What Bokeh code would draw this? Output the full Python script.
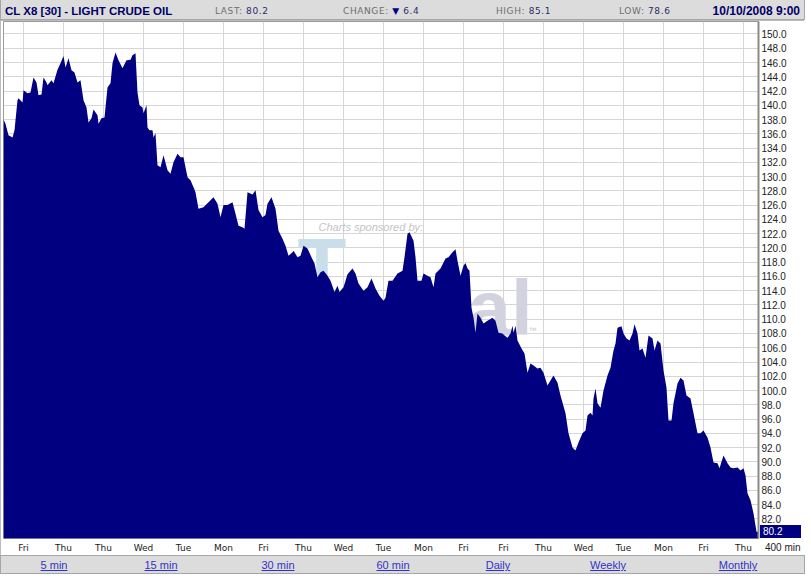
from bokeh.plotting import figure
from bokeh.models import FixedTicker, Label, Div, ColumnDataSource, Range1d, PrintfTickFormatter
from bokeh.layouts import column
from bokeh.embed import file_html
from bokeh.resources import INLINE

# ---------------- data ----------------
symbol_title = "CL X8 [30] - LIGHT CRUDE OIL"
last_price = 80.2
change = 6.4
high_price = 85.1
low_price = 78.6
stamp = "10/10/2008 9:00"

bars = [0, 2, 5, 9, 11, 14, 15, 19, 20, 24, 27, 30, 33, 35, 38, 40, 43, 44, 48, 50,
        54, 57, 60, 62, 65, 68, 71, 74, 77, 80, 83, 85, 88, 90, 94, 95, 98, 101, 104, 107,
        109, 112, 115, 119, 123, 127, 129, 132, 134, 136, 139, 140, 143, 144, 146, 149, 150, 152, 154, 157,
        160, 164, 167, 170, 174, 177, 180, 184, 187, 190, 192, 195, 200, 205, 210, 214, 217, 220, 224, 229,
        232, 235, 239, 241, 244, 249, 252, 255, 259, 262, 264, 268, 272, 275, 279, 282, 285, 289, 290, 294,
        297, 300, 304, 308, 311, 314, 317, 320, 324, 327, 331, 334, 336, 340, 344, 349, 352, 355, 360, 364,
        368, 372, 376, 380, 382, 385, 389, 394, 399, 401, 404, 406, 410, 412, 414, 418, 420, 424, 427, 430,
        432, 437, 442, 445, 449, 452, 454, 457, 460, 462, 464, 466, 468, 470, 472, 474, 477, 480, 484, 489,
        492, 495, 499, 501, 504, 507, 509, 510, 512, 514, 518, 521, 524, 527, 530, 534, 537, 540, 544, 547,
        550, 554, 557, 562, 565, 569, 572, 575, 579, 582, 584, 587, 589, 590, 592, 594, 597, 600, 604, 607,
        610, 612, 614, 618, 620, 623, 626, 629, 631, 634, 636, 639, 642, 645, 649, 651, 654, 657, 660, 663,
        665, 668, 670, 674, 677, 680, 683, 687, 690, 694, 697, 700, 704, 707, 710, 714, 716, 720, 724, 727,
        730, 734, 737, 740, 742, 744, 747, 750, 753, 755]

prices = [138.0, 137.4, 135.8, 135.5, 136.5, 140.7, 141.0, 140.4, 142.1, 141.7, 141.8, 143.9, 143.2, 141.4, 141.5, 143.9, 143.2, 142.8, 143.5, 143.1,
          145.0, 145.9, 146.9, 145.3, 146.6, 144.9, 144.6, 143.2, 143.5, 140.7, 139.7, 137.6, 138.2, 139.4, 138.6, 137.4, 138.2, 138.3, 142.5, 143.1,
          145.9, 147.4, 146.3, 145.2, 146.3, 146.4, 147.0, 147.3, 141.8, 140.0, 139.7, 138.9, 140.0, 136.9, 136.5, 136.5, 135.5, 136.1, 131.6, 131.3,
          133.0, 130.9, 130.4, 132.0, 133.2, 132.7, 132.7, 129.9, 129.5, 128.5, 127.8, 125.5, 125.7, 126.4, 127.1, 126.2, 124.3, 126.0, 126.0, 126.4,
          124.8, 123.1, 122.9, 122.7, 127.8, 127.5, 128.1, 125.3, 124.3, 124.6, 126.2, 127.1, 125.5, 122.4, 121.3, 120.3, 118.9, 119.4, 119.6, 118.7,
          118.9, 120.3, 119.9, 118.7, 117.8, 115.9, 116.6, 116.8, 116.1, 115.4, 113.8, 114.7, 113.8, 114.5, 116.3, 117.1, 116.4, 115.0, 114.0, 114.5,
          115.7, 114.3, 113.3, 112.6, 113.0, 115.4, 115.4, 116.4, 116.8, 118.7, 122.0, 122.2, 121.0, 118.7, 115.4, 115.4, 116.4, 116.1, 115.9, 114.5,
          116.4, 117.1, 118.5, 118.7, 119.4, 119.8, 118.2, 116.1, 117.5, 117.9, 117.1, 116.8, 111.6, 110.2, 108.1, 110.8, 110.2, 109.4, 109.8, 110.2,
          109.8, 108.1, 108.0, 107.7, 107.4, 108.0, 109.1, 108.1, 109.1, 107.0, 105.9, 105.2, 102.5, 103.8, 103.5, 103.1, 103.2, 102.5, 100.7, 101.4,
          102.1, 101.1, 99.3, 96.8, 94.0, 92.0, 91.6, 92.7, 94.0, 94.4, 96.5, 96.9, 96.5, 98.9, 100.3, 98.2, 97.6, 100.0, 102.1, 103.2,
          105.6, 106.6, 108.8, 109.0, 108.0, 107.3, 107.0, 108.0, 109.3, 108.0, 105.6, 105.9, 104.6, 107.7, 107.3, 105.6, 107.0, 106.6, 102.8, 100.4,
          95.8, 95.8, 98.2, 101.0, 101.8, 101.4, 99.3, 98.9, 96.8, 94.0, 94.0, 94.4, 93.4, 92.0, 89.9, 89.8, 89.1, 90.9, 89.8, 89.2,
          89.1, 89.2, 88.8, 89.1, 88.1, 85.6, 84.6, 82.8, 80.2, 80.2]

x_tick_labels = ["Fri", "Thu", "Thu", "Wed", "Tue", "Mon", "Fri", "Thu", "Wed", "Tue",
                 "Mon", "Fri", "Fri", "Thu", "Wed", "Tue", "Mon", "Fri", "Thu"]
x_tick_bars = [20 + 40 * i for i in range(len(x_tick_labels))]
y_ticks = [82 + 2 * i for i in range(35)]
period_label = "400 min"
link_labels = ["5 min", "15 min", "30 min", "60 min", "Daily", "Weekly", "Monthly"]
link_centers = [53, 160, 277, 392, 497, 607, 737]

Y_FLOOR = 79.25
Y_TOP = 151.75
NAVY = "#000080"

# ---------------- figure ----------------
src = ColumnDataSource(data=dict(bar=bars, price=prices))

p = figure(frame_width=755, frame_height=517,
           x_range=Range1d(0, 755), y_range=Range1d(Y_FLOOR, Y_TOP),
           y_axis_location="right", output_backend="svg", toolbar_location=None,
           min_border_left=3, min_border_right=46, min_border_top=1, min_border_bottom=17,
           background_fill_color="white", border_fill_color="white",
           outline_line_color="#9a9a9a", margin=(0, 0, 0, 0),
           styles={"outline": "1px solid #a6a6a6", "outline-offset": "-1px"})

# watermark (under data)
p.add_layout(Label(x=294, y=123.6, text="T", text_baseline="top",
                   text_font="Liberation Sans", text_font_style="bold",
                   text_font_size="80px", text_color="#c9dee9", level="underlay"))
p.add_layout(Label(x=315, y=123.0, text="Charts sponsored by:", text_baseline="middle",
                   text_font="Liberation Sans", text_font_style="italic",
                   text_font_size="11px", text_color="#c4c4c4", level="underlay"))
p.add_layout(Label(x=464, y=117.7, text="al", text_baseline="top",
                   text_font="Liberation Sans", text_font_style="bold",
                   text_font_size="78px", text_color="#d2d3de", level="underlay"))
p.add_layout(Label(x=525, y=109.0, text="™", text_baseline="top",
                   text_font="Liberation Sans",
                   text_font_size="8px", text_color="#c8c8c8", level="underlay"))

p.varea(x="bar", y1=Y_FLOOR, y2="price", source=src, fill_color=NAVY, fill_alpha=1.0)

# grids
p.xgrid.ticker = FixedTicker(ticks=x_tick_bars)
p.ygrid.ticker = FixedTicker(ticks=y_ticks)
for g in (p.xgrid, p.ygrid):
    g.grid_line_color = "#d6d6d6"
    g.grid_line_width = 1

# x axis
xa = p.xaxis[0]
xa.ticker = FixedTicker(ticks=x_tick_bars)
xa.major_label_overrides = {b: l for b, l in zip(x_tick_bars, x_tick_labels)}
xa.axis_line_color = None
xa.major_tick_line_color = None
xa.minor_tick_line_color = None
xa.major_tick_out = 0
xa.major_tick_in = 0
xa.minor_tick_out = 0
xa.major_label_standoff = 4
xa.major_label_text_font = "DejaVu Sans"
xa.major_label_text_font_size = "9px"
xa.major_label_text_color = "#222222"

# y axis (right)
ya = p.yaxis[0]
ya.ticker = FixedTicker(ticks=y_ticks)
ya.formatter = PrintfTickFormatter(format="%.1f")
ya.axis_line_color = "#8a8a8a"
ya.axis_line_width = 2
ya.major_tick_line_color = None
ya.minor_tick_line_color = None
ya.major_tick_out = 0
ya.major_tick_in = 0
ya.minor_tick_out = 0
ya.major_label_standoff = 3
ya.major_label_text_font = "Liberation Sans"
ya.major_label_text_font_size = "10px"
ya.major_label_text_color = "#222222"

# ---------------- header & footer ----------------
lab = "position:absolute;top:5px;font-family:'DejaVu Sans';font-size:9px;color:#6e6e6e;letter-spacing:0.6px;white-space:nowrap;"
val = "color:#2b2b6b;"
header_html = f"""
<div style="position:relative;width:803px;height:19px;background:#dcdcdc;border:1px solid #a6a6a6;border-top:none;box-sizing:content-box;overflow:hidden;">
<span style="position:absolute;left:4px;top:3px;font-family:'Liberation Sans';font-weight:bold;font-size:11.5px;color:#000066;white-space:nowrap;">{symbol_title}</span>
<span style="{lab}left:214px;">LAST: <span style="{val}">{last_price:.1f}</span></span>
<span style="{lab}left:342px;">CHANGE: <span style="color:#000080;">&#9660;</span> <span style="{val}">{change:.1f}</span></span>
<span style="{lab}left:495px;">HIGH: <span style="{val}">{high_price:.1f}</span></span>
<span style="{lab}left:618px;">LOW: <span style="{val}">{low_price:.1f}</span></span>
<span style="position:absolute;right:4px;top:3px;font-family:'Liberation Sans';font-weight:bold;font-size:12px;color:#000066;white-space:nowrap;">{stamp}</span>
</div>"""

links = "".join(
    f'<span style="position:absolute;left:{c}px;top:2px;transform:translateX(-50%);'
    f'font-family:\'Liberation Sans\';font-size:11px;color:#3232c8;text-decoration:underline;white-space:nowrap;">{t}</span>'
    for t, c in zip(link_labels, link_centers))
# last-price box and period label sit on the chart's right column, just above the link bar
overlay = (
    f'<span style="position:absolute;left:759px;top:-31px;width:38px;height:13px;padding-left:3px;'
    f'background:{NAVY};color:white;font-family:\'Liberation Sans\';font-size:10px;line-height:13px;">{last_price:.1f}</span>'
    f'<span style="position:absolute;left:764px;top:-14px;font-family:\'Liberation Sans\';font-size:10px;'
    f'line-height:12px;color:#222222;white-space:nowrap;">{period_label}</span>')
footer_html = f"""
<div style="position:relative;width:803px;height:17px;background:#dcdcdc;border:1px solid #a6a6a6;box-sizing:content-box;overflow:visible;">{links}{overlay}</div>"""

header = Div(text=header_html, width=805, height=20, margin=(0, 0, 0, 0))
footer = Div(text=footer_html, width=805, height=19, margin=(0, 0, 0, 0),
             styles={"overflow": "visible", "z-index": "5"})

layout = column(header, p, footer, spacing=0, margin=(0, 0, 0, 0))

open("out.html", "w").write(file_html(layout, INLINE))
